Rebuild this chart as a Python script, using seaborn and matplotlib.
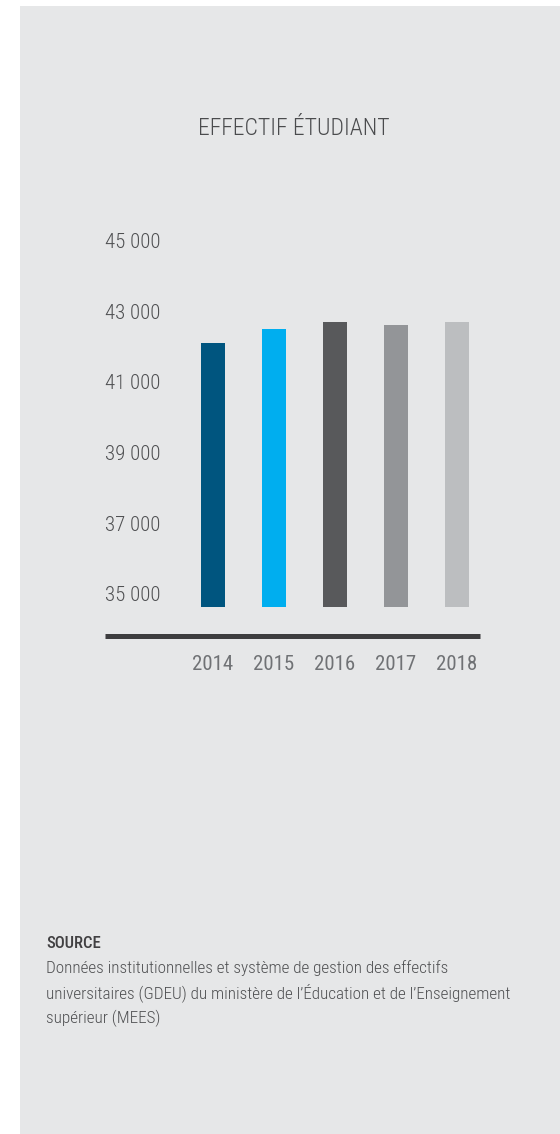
import matplotlib
matplotlib.use("Agg")
import matplotlib.pyplot as plt
from matplotlib import font_manager
from matplotlib.patches import Rectangle
import seaborn as sns
import pandas as pd

# Data
years = ["2014", "2015", "2016", "2017", "2018"]
students = [42100, 42500, 42700, 42600, 42700]
y_ticks = [35000, 37000, 39000, 41000, 43000, 45000]
y_tick_labels = ["35 000", "37 000", "39 000", "41 000", "43 000", "45 000"]
bar_colors = ["#00557f", "#00aeef", "#58595b", "#939598", "#bcbec0"]

title = "EFFECTIF ÉTUDIANT"
source_head = "SOURCE"
source_lines = [
    "Données institutionnelles et système de gestion des effectifs",
    "universitaires (GDEU) du ministère de l’Éducation et de l’Enseignement",
    "supérieur (MEES)",
]

sns.set_theme(style="white")

# Pick a condensed sans face when one is available
installed = {f.name for f in font_manager.fontManager.ttflist}
family = "DejaVu Sans"
for cand in ["Roboto Condensed", "Liberation Sans Narrow", "Roboto", "Liberation Sans"]:
    if cand in installed:
        family = cand
        break
plt.rcParams["font.family"] = [family, "DejaVu Sans"]
LIGHT = "light"

W, H = 560, 1134
fig = plt.figure(figsize=(W / 100, H / 100), dpi=100, facecolor="white")

PANEL = "#e6e7e8"
fig.patches.append(Rectangle((20 / W, 0), 1 - 20 / W, 1 - 6 / H,
                             transform=fig.transFigure, facecolor=PANEL,
                             edgecolor="none", zorder=-10))

# Axes: left/right edges of the baseline rule, bottom at the bar bases
ax_left, ax_right = 105, 480
ax_top, ax_bottom = 225, 606.7
ax = fig.add_axes([ax_left / W, 1 - ax_bottom / H,
                   (ax_right - ax_left) / W, (ax_bottom - ax_top) / H])
ax.set_facecolor("none")
ax.set_zorder(5)

df = pd.DataFrame({"year": years, "students": students})
sns.barplot(data=df, x="year", y="students", hue="year", palette=bar_colors,
            legend=False, width=0.39, saturation=1, linewidth=0, ax=ax)

ax.set_xlim(-1.77, 4.377)
ax.set_ylim(34640, 45440)
ax.set_xlabel("")
ax.set_ylabel("")

ax.set_yticks(y_ticks)
ax.set_yticklabels(y_tick_labels)
ax.tick_params(axis="y", length=0, pad=0, labelsize=15, labelcolor="#4f5052")
for lab in ax.get_yticklabels():
    lab.set_horizontalalignment("left")
    lab.set_fontweight(LIGHT)

ax.tick_params(axis="x", length=0, pad=14, labelsize=15, labelcolor="#707275")
for lab in ax.get_xticklabels():
    lab.set_fontweight(LIGHT)

sns.despine(ax=ax, left=True, offset={"bottom": 21})
ax.spines["bottom"].set_linewidth(3.6)
ax.spines["bottom"].set_color("#3d3d3f")
ax.spines["bottom"].set_capstyle("butt")

# Title
fig.text(293.5 / W, 1 - 135 / H, title, ha="center", va="baseline",
         fontsize=17, fontweight=LIGHT, color="#4a4b4d")

# Source block
fig.text(46 / W, 1 - 948 / H, source_head, ha="left", va="baseline",
         fontsize=12, fontweight="medium", color="#414042")
for i, line in enumerate(source_lines):
    fig.text(46 / W, 1 - (973 + 25 * i) / H, line, ha="left", va="baseline",
             fontsize=12.3, fontweight=LIGHT, color="#4f5052")

fig.savefig("out.png", dpi=100, facecolor="white")
